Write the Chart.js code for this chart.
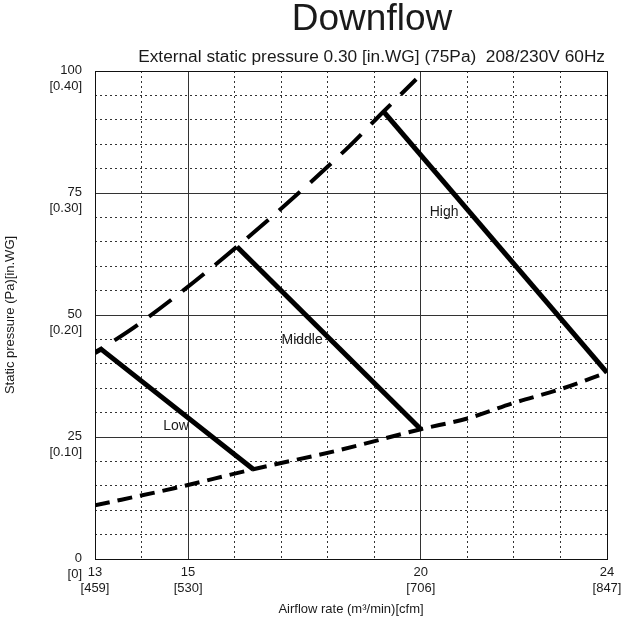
<!DOCTYPE html>
<html>
<head>
<meta charset="utf-8">
<title>Downflow</title>
<script src="https://cdn.jsdelivr.net/npm/chart.js@4.4.0/dist/chart.umd.min.js"></script>
<style>
  html, body { margin: 0; padding: 0; background: #fff; }
  #wrap { width: 632px; height: 621px; }
</style>
</head>
<body>
<div id="wrap"><canvas id="chartCanvas" width="632" height="621"></canvas></div>
<script>
// airflow rate in m3/min, static pressure in Pa
const lowAirflow = [13, 13.13, 16.4];
const lowPressure = [42.3, 43.0, 18.4];
const middleAirflow = [16.05, 20];
const middlePressure = [64.0, 26.6];
const highAirflow = [19.2, 24];
const highPressure = [91.7, 38.2];

// upper (long dash) and lower (short dash) limit curves
const upperAirflow = [13.13, 13.95, 16.05, 18.4, 19.2, 19.9];
const upperPressure = [43.0, 48.2, 64.0, 84.0, 91.7, 98.3];
const lowerAirflow = [13, 14.7, 16.4, 18.2, 20, 21, 22, 23, 24];
const lowerPressure = [11.0, 14.5, 18.4, 22.2, 26.6, 28.8, 32.0, 34.8, 38.2];

const xTickValues = [13, 15, 20, 24];
const xTickLabels = ['13', '15', '20', '24'];
const xTickCfm = ['[459]', '[530]', '[706]', '[847]'];
const yTickValues = [0, 25, 50, 75, 100];
const yTickLabels = ['0', '25', '50', '75', '100'];
const yTickInWG = ['[0]', '[0.10]', '[0.20]', '[0.30]', '[0.40]'];
const xMajorLines = [15, 20];
const yMajorLines = [25, 50, 75];

const curveNames = ['Low', 'Middle', 'High'];
const curveNameAt = [[14.74, 27.3], [17.45, 44.9], [20.5, 71.1]];

const FONT = '"Liberation Sans", Arial, Helvetica, sans-serif';
const INK = '#1a1a1a';

function toPoints(xs, ys) {
    return xs.map((x, i) => ({x: x, y: ys[i]}));
}

function solidCurve(name, xs, ys) {
    return {
        label: name,
        data: toPoints(xs, ys),
        showLine: true,
        borderColor: '#000',
        borderWidth: 5,
        pointRadius: 0,
        borderCapStyle: 'butt',
        borderJoinStyle: 'miter',
    };
}

function dashedCurve(name, xs, ys, dash, dashOffset) {
    return {
        label: name,
        data: toPoints(xs, ys),
        showLine: true,
        borderColor: '#000',
        borderWidth: 4,
        borderDash: dash,
        borderDashOffset: dashOffset,
        pointRadius: 0,
        cubicInterpolationMode: 'monotone',
        borderCapStyle: 'butt',
    };
}

function align(px) {
    return Math.round(px - 0.5) + 0.5;
}

const frameAndNotes = {
    id: 'frameAndNotes',
    beforeDatasetsDraw(chart) {
        const {ctx, chartArea: a, scales: {x, y}} = chart;
        ctx.save();
        ctx.strokeStyle = '#333';
        ctx.lineWidth = 1;
        ctx.beginPath();
        xMajorLines.forEach(v => {
            const px = align(x.getPixelForValue(v));
            ctx.moveTo(px, a.top);
            ctx.lineTo(px, a.bottom);
        });
        yMajorLines.forEach(v => {
            const py = align(y.getPixelForValue(v));
            ctx.moveTo(a.left, py);
            ctx.lineTo(a.right, py);
        });
        ctx.stroke();
        ctx.strokeStyle = '#111';
        const l = align(a.left), t = align(a.top);
        ctx.strokeRect(l, t, align(a.right) - l, align(a.bottom) - t);
        ctx.restore();
    },
    afterDatasetsDraw(chart) {
        const {ctx, scales: {x, y}} = chart;
        ctx.save();
        ctx.font = '14px ' + FONT;
        ctx.fillStyle = INK;
        ctx.textAlign = 'center';
        ctx.textBaseline = 'middle';
        curveNames.forEach((name, i) => {
            ctx.fillText(name, x.getPixelForValue(curveNameAt[i][0]), y.getPixelForValue(curveNameAt[i][1]));
        });
        ctx.restore();
    },
    afterDraw(chart) {
        const ctx = chart.ctx;
        ctx.save();
        ctx.fillStyle = INK;
        ctx.textBaseline = 'middle';
        ctx.font = '37px ' + FONT;
        ctx.textAlign = 'center';
        ctx.fillText('Downflow', 372, 20);
        ctx.font = '17.3px ' + FONT;
        ctx.textAlign = 'right';
        ctx.fillText('External static pressure 0.30 [in.WG] (75Pa)  208/230V 60Hz', 605, 57);
        ctx.restore();
    }
};

const tickFont = {family: FONT, size: 13, lineHeight: 1.23};

new Chart(document.getElementById('chartCanvas').getContext('2d'), {
    type: 'scatter',
    data: {
        datasets: [
            dashedCurve('Upper limit', upperAirflow, upperPressure, [28, 14], 26),
            dashedCurve('Lower limit', lowerAirflow, lowerPressure, [15, 8], 0),
            solidCurve('Low', lowAirflow, lowPressure),
            solidCurve('Middle', middleAirflow, middlePressure),
            solidCurve('High', highAirflow, highPressure),
        ]
    },
    options: {
        responsive: false,
        animation: false,
        events: [],
        layout: {padding: {left: 0, right: 25, top: 71, bottom: 0}},
        plugins: {
            legend: {display: false},
            tooltip: {enabled: false},
            title: {display: false}
        },
        scales: {
            x: {
                type: 'linear',
                min: 13,
                max: 24,
                ticks: {
                    stepSize: 1,
                    autoSkip: false,
                    maxRotation: 0,
                    padding: 5,
                    color: INK,
                    font: tickFont,
                    callback(v) {
                        const i = xTickValues.indexOf(v);
                        return i < 0 ? '' : [xTickLabels[i], xTickCfm[i]];
                    }
                },
                grid: {color: '#333', lineWidth: 1, drawTicks: false},
                border: {display: false, dash: [2, 3]},
                title: {
                    display: true,
                    text: 'Airflow rate (m³/min)[cfm]',
                    color: INK,
                    font: {family: FONT, size: 13},
                    padding: {top: 0, bottom: 4}
                },
                afterFit(scale) { scale.height = 62; }
            },
            y: {
                type: 'linear',
                min: 0,
                max: 100,
                ticks: {
                    stepSize: 5,
                    autoSkip: false,
                    padding: 13,
                    labelOffset: 7,
                    color: INK,
                    font: tickFont,
                    callback(v) {
                        const i = yTickValues.indexOf(v);
                        return i < 0 ? '' : [yTickLabels[i], yTickInWG[i]];
                    }
                },
                grid: {color: '#333', lineWidth: 1, drawTicks: false},
                border: {display: false, dash: [2, 3]},
                title: {
                    display: true,
                    text: 'Static pressure (Pa)[in.WG]',
                    color: INK,
                    font: {family: FONT, size: 13},
                    padding: {top: 3, bottom: 0}
                },
                afterFit(scale) { scale.width = 95; }
            }
        }
    },
    plugins: [frameAndNotes]
});
</script>
</body>
</html>
